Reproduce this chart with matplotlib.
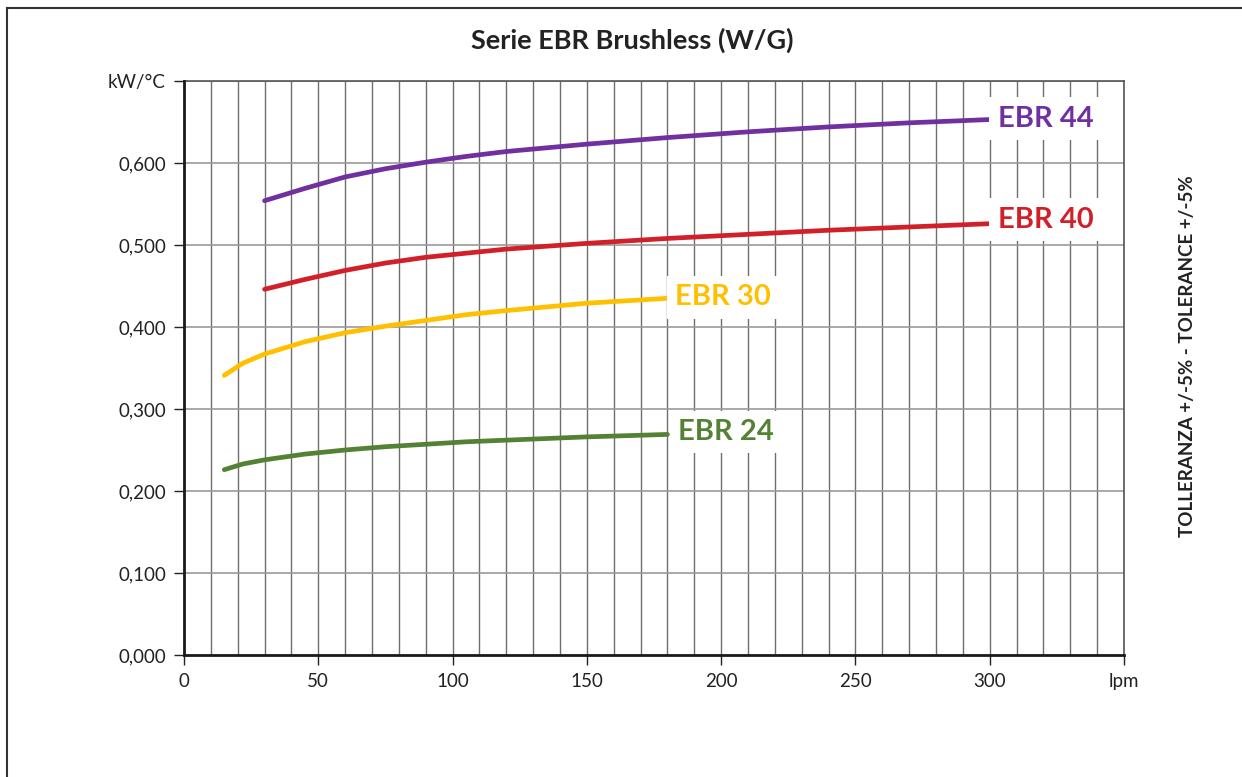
import matplotlib.pyplot as plt
from matplotlib.lines import Line2D

plt.rcParams['font.family'] = ['Lato', 'DejaVu Sans']

# data (lpm -> kW/°C)
x_44 = [30, 45, 60, 75, 90, 105, 120, 150, 180, 210, 240, 270, 300]
y_44 = [0.554, 0.569, 0.583, 0.593, 0.601, 0.608, 0.614, 0.623, 0.631, 0.638, 0.644, 0.649, 0.653]

x_40 = [30, 45, 60, 75, 90, 105, 120, 150, 180, 210, 240, 270, 300]
y_40 = [0.446, 0.458, 0.469, 0.478, 0.485, 0.490, 0.495, 0.502, 0.508, 0.513, 0.518, 0.522, 0.526]

x_30 = [15, 22, 30, 45, 60, 75, 90, 105, 120, 150, 180]
y_30 = [0.341, 0.356, 0.367, 0.382, 0.393, 0.401, 0.408, 0.415, 0.420, 0.429, 0.435]

x_24 = [15, 22, 30, 45, 60, 75, 90, 105, 120, 150, 180]
y_24 = [0.226, 0.233, 0.238, 0.245, 0.250, 0.254, 0.257, 0.260, 0.262, 0.266, 0.269]

x_ticks = [0, 50, 100, 150, 200, 250, 300, 350]
x_labels = ['0', '50', '100', '150', '200', '250', '300', 'lpm']
y_ticks = [0.0, 0.1, 0.2, 0.3, 0.4, 0.5, 0.6, 0.7]
y_labels = ['0,000', '0,100', '0,200', '0,300', '0,400', '0,500', '0,600', 'kW/°C']

series = [
    (x_44, y_44, '#7030A0', 'EBR 44', (303, 0.654)),
    (x_40, y_40, '#D2202A', 'EBR 40', (303, 0.531)),
    (x_30, y_30, '#FFC000', 'EBR 30', (183, 0.436)),
    (x_24, y_24, '#548235', 'EBR 24', (184, 0.272)),
]

W, H = 1242, 777
fig = plt.figure(figsize=(W / 100, H / 100), dpi=100)
ax = fig.add_axes([184 / W, 1 - 655 / H, (1124 - 184) / W, (655 - 81) / H])

ax.set_xlim(0, 350)
ax.set_ylim(0, 0.7)

# grid every 10 lpm and every 0.1 kW/°C
for gx in range(10, 351, 10):
    ax.axvline(gx, color='#6e6e6e', lw=1.0, zorder=1)
for gy in y_ticks[1:]:
    ax.axhline(gy, color='#9a9a9a', lw=1.2, zorder=1)

for xs, ys, col, name, (tx, ty) in series:
    ax.plot(xs, ys, color=col, lw=3.4, solid_capstyle='round',
            solid_joinstyle='round', zorder=3)
    ax.text(tx, ty, name, color=col, fontsize=21, fontweight='bold',
            ha='left', va='center', zorder=4,
            bbox=dict(facecolor='white', edgecolor='none', pad=6))

ax.set_xticks(x_ticks)
ax.set_xticklabels(x_labels)
ax.set_yticks(y_ticks)
ax.set_yticklabels(y_labels)
ax.tick_params(axis='both', direction='out', length=7, width=1, colors='#222222',
               labelsize=13.5, pad=6)

for s in ['left', 'bottom']:
    ax.spines[s].set_linewidth(2)
    ax.spines[s].set_color('#1a1a1a')
    ax.spines[s].set_zorder(5)
for s in ['top', 'right']:
    ax.spines[s].set_linewidth(1.2)
    ax.spines[s].set_color('#555555')

fig.text(632 / W, 1 - 40 / H, 'Serie EBR Brushless (W/G)', ha='center', va='center',
         fontsize=19.5, fontweight='bold', color='#222222')
fig.text(1188 / W, 1 - 356 / H, 'TOLLERANZA +/-5% - TOLERANCE +/-5%', rotation=90,
         ha='center', va='center', fontsize=13.5, fontweight='bold', color='#222222')

# outer frame (left and top edges visible)
fig.add_artist(Line2D([7 / W, 7 / W], [0, 1 - 8 / H], color='#333333', lw=1.5))
fig.add_artist(Line2D([7 / W, 1], [1 - 8 / H, 1 - 8 / H], color='#333333', lw=1.5))

fig.savefig('out.png', dpi=100)
